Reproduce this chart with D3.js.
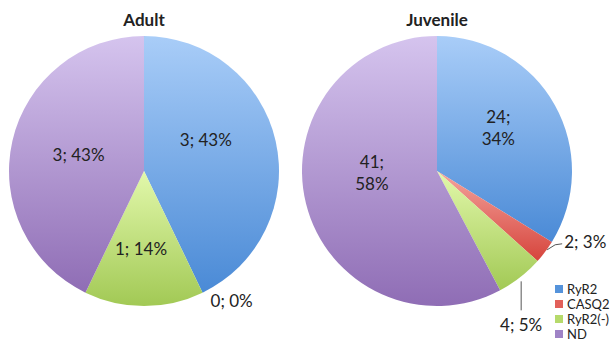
<!DOCTYPE html>
<html>
<head>
<meta charset="utf-8">
<script src="https://cdn.jsdelivr.net/npm/d3@7"></script>
<style>
  body { margin: 0; background: #fff; }
  svg text { font-family: Lato, "Noto Sans", sans-serif; fill: #222; }
</style>
</head>
<body>
<div id="chart"></div>
<script>
const categories = ["RyR2", "CASQ2", "RyR2(-)", "ND"];
const adultValues = [3, 0, 1, 3];
const adultPct = ["43%", "0%", "14%", "43%"];
const juvenileValues = [24, 2, 4, 41];
const juvenilePct = ["34%", "3%", "5%", "58%"];

const width = 613, height = 353;
const svg = d3.select("#chart").append("svg")
  .attr("width", width).attr("height", height);

// light top -> dark bottom, like the Excel gradient fill
const fills = {
  "RyR2":    ["#a9cdf8", "#4a8ad6"],
  "CASQ2":   ["#f4a49d", "#d6443c"],
  "RyR2(-)": ["#e2f8ab", "#a2c955"],
  "ND":      ["#d5c4ee", "#8f6db5"]
};
const swatch = {"RyR2": "#5593db", "CASQ2": "#e2605a", "RyR2(-)": "#b6da6b", "ND": "#9f83c6"};

const defs = svg.append("defs");
categories.forEach((c, i) => {
  const g = defs.append("linearGradient").attr("id", "grad" + i)
    .attr("x1", 0).attr("y1", 0).attr("x2", 0).attr("y2", 1);
  g.append("stop").attr("offset", "0%").attr("stop-color", fills[c][0]);
  g.append("stop").attr("offset", "100%").attr("stop-color", fills[c][1]);
});

const R = 135;
const pie = d3.pie().sort(null).value(d => d.value);
const arc = d3.arc().innerRadius(0).outerRadius(R);

function drawPie(cx, cy, title, values, pcts, opts) {
  const g = svg.append("g").attr("transform", `translate(${cx},${cy})`);
  const data = categories.map((c, i) => ({cat: c, i, value: values[i], pct: pcts[i]}));
  const arcs = pie(data);

  g.selectAll("path")
    .data(arcs.filter(d => d.data.value > 0))
    .join("path")
    .attr("d", arc)
    .attr("fill", d => `url(#grad${d.data.i})`);

  g.append("text")
    .attr("x", 0).attr("y", -R - 10)
    .attr("text-anchor", "middle")
    .style("font-size", "17px").style("font-weight", "bold")
    .text(title);

  arcs.forEach(d => {
    const o = opts[d.data.i] || {};
    const lbl = d.data.value + ";";
    if (o.outside) {
      const a = (d.startAngle + d.endAngle) / 2;
      const ex = Math.sin(a) * R, ey = -Math.cos(a) * R;
      if (o.leader) {
        g.append("polyline")
          .attr("points", o.leader(ex, ey).map(p => p.join(",")).join(" "))
          .attr("fill", "none").attr("stroke", "#555").attr("stroke-width", 1);
      }
      const [tx, ty] = o.text(ex, ey);
      g.append("text").attr("x", tx).attr("y", ty)
        .attr("text-anchor", o.anchor || "start")
        .attr("dy", "0.35em")
        .style("font-size", "17px")
        .text(lbl + " " + d.data.pct);
    } else {
      const k = o.k || 0.52;
      const c = d3.arc().innerRadius(0).outerRadius(R * k * 2).centroid(d);
      const x = c[0] + (o.dx || 0), y = c[1] + (o.dy || 0);
      const t = g.append("text").attr("x", x).attr("y", y)
        .attr("text-anchor", "middle").style("font-size", "17px");
      if (o.twoLine) {
        t.append("tspan").attr("x", x).attr("dy", "-0.25em").text(lbl);
        t.append("tspan").attr("x", x).attr("dy", "1.3em").text(d.data.pct);
      } else {
        t.attr("dy", "0.35em").text(lbl + " " + d.data.pct);
      }
    }
  });
}

drawPie(144, 171, "Adult", adultValues, adultPct, {
  0: {k: 0.5, dx: -4, dy: -16},
  1: {outside: true, text: (x, y) => [x + 8, y + 8]},
  2: {k: 0.58, dx: -3},
  3: {k: 0.52, dx: 3}
});

drawPie(437, 171, "Juvenile", juvenileValues, juvenilePct, {
  0: {k: 0.52, dx: 0, dy: -10, twoLine: true},
  1: {outside: true, anchor: "start",
      leader: (x, y) => [[x + 2, y - 2], [x + 10, y - 7], [x + 17, y - 8]],
      text: (x, y) => [x + 19, y - 10]},
  2: {outside: true, anchor: "middle",
      leader: (x, y) => [[x + 1, y + 4], [x + 1, y + 33]],
      text: (x, y) => [x + 1, y + 48]},
  3: {k: 0.52, dx: 3, dy: -16, twoLine: true}
});

// legend
const legend = svg.append("g").attr("transform", "translate(555,289)");
const rows = legend.selectAll("g").data(categories).join("g")
  .attr("transform", (d, i) => `translate(0,${i * 15})`);
rows.append("rect").attr("x", 0).attr("y", -4).attr("width", 8).attr("height", 8)
  .attr("fill", d => swatch[d]);
rows.append("text").attr("x", 12).attr("dy", "0.35em")
  .style("font-size", "13px").text(d => d);
</script>
</body>
</html>
